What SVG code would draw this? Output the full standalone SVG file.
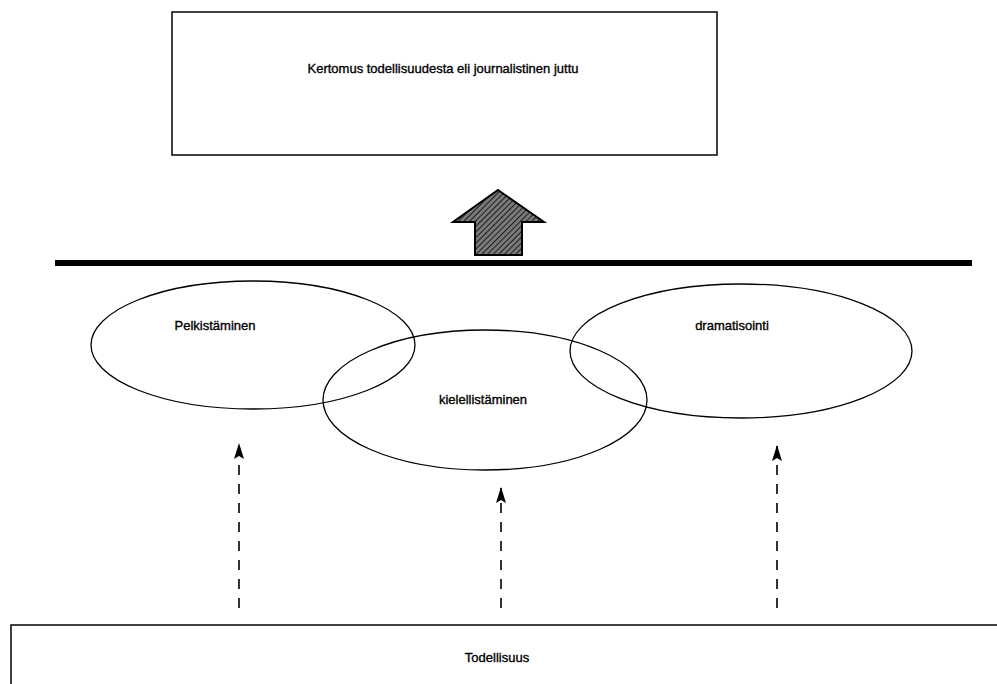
<svg xmlns="http://www.w3.org/2000/svg" width="997" height="684" viewBox="0 0 997 684">
  <style>
    .box { fill: #ffffff; stroke: #000000; stroke-width: 1.5; }
    .oval { fill: none; stroke: #000000; stroke-width: 1.3; }
    .lbl { font-family: "Liberation Sans", Arial, sans-serif; font-size: 13px; fill: #000000; stroke: #000000; stroke-width: 0.35; text-anchor: middle; }
    .dash { fill: none; stroke: #000000; stroke-width: 1.6; stroke-dasharray: 10 9; }
  </style>
  <defs>
    <pattern id="hatch" patternUnits="userSpaceOnUse" width="4" height="4" patternTransform="rotate(45)">
      <rect width="4" height="4" fill="#7a7a7a"/>
      <line x1="0" y1="0" x2="0" y2="4" stroke="#111111" stroke-width="1.8"/>
    </pattern>
    <marker id="head" viewBox="0 0 16 10" refX="15" refY="5" markerWidth="16" markerHeight="10" markerUnits="userSpaceOnUse" orient="auto">
      <path d="M16 5 L0 0 L3 5 L0 10 Z" fill="#000000"/>
    </marker>
  </defs>
  <rect width="997" height="684" fill="#ffffff"/>

  <!-- result box -->
  <g id="kertomus">
    <rect class="box" x="172" y="12" width="545" height="143"/>
    <text class="lbl" x="443" y="73">Kertomus todellisuudesta eli journalistinen juttu</text>
  </g>

  <!-- big hatched arrow -->
  <g id="nuoli">
    <path d="M498 190 L544 222 L522 222 L522 255 L475 255 L475 222 L453 222 Z" fill="url(#hatch)" stroke="#000000" stroke-width="2"/>
  </g>

  <!-- thick divider -->
  <g id="raja">
    <line x1="55" y1="263" x2="972" y2="263" stroke="#000000" stroke-width="6"/>
  </g>

  <g id="pelkistaminen">
    <ellipse class="oval" cx="253" cy="345" rx="162" ry="64"/>
    <text class="lbl" x="215" y="330">Pelkistäminen</text>
  </g>
  <g id="kielellistaminen">
    <ellipse class="oval" cx="485" cy="400" rx="162" ry="70"/>
    <text class="lbl" x="483" y="404">kielellistäminen</text>
  </g>
  <g id="dramatisointi">
    <ellipse class="oval" cx="741" cy="351" rx="171" ry="67"/>
    <text class="lbl" x="732" y="330">dramatisointi</text>
  </g>

  <!-- reality box, running off the page -->
  <g id="todellisuus">
    <rect class="box" x="11" y="625" width="1000" height="80"/>
    <text class="lbl" x="497" y="662">Todellisuus</text>
  </g>

  <g id="connectors">
    <line class="dash" x1="239" y1="608" x2="239" y2="444" marker-end="url(#head)"/>
    <line class="dash" x1="501" y1="608" x2="501" y2="488" marker-end="url(#head)"/>
    <line class="dash" x1="777" y1="608" x2="777" y2="446" marker-end="url(#head)"/>
  </g>
</svg>
